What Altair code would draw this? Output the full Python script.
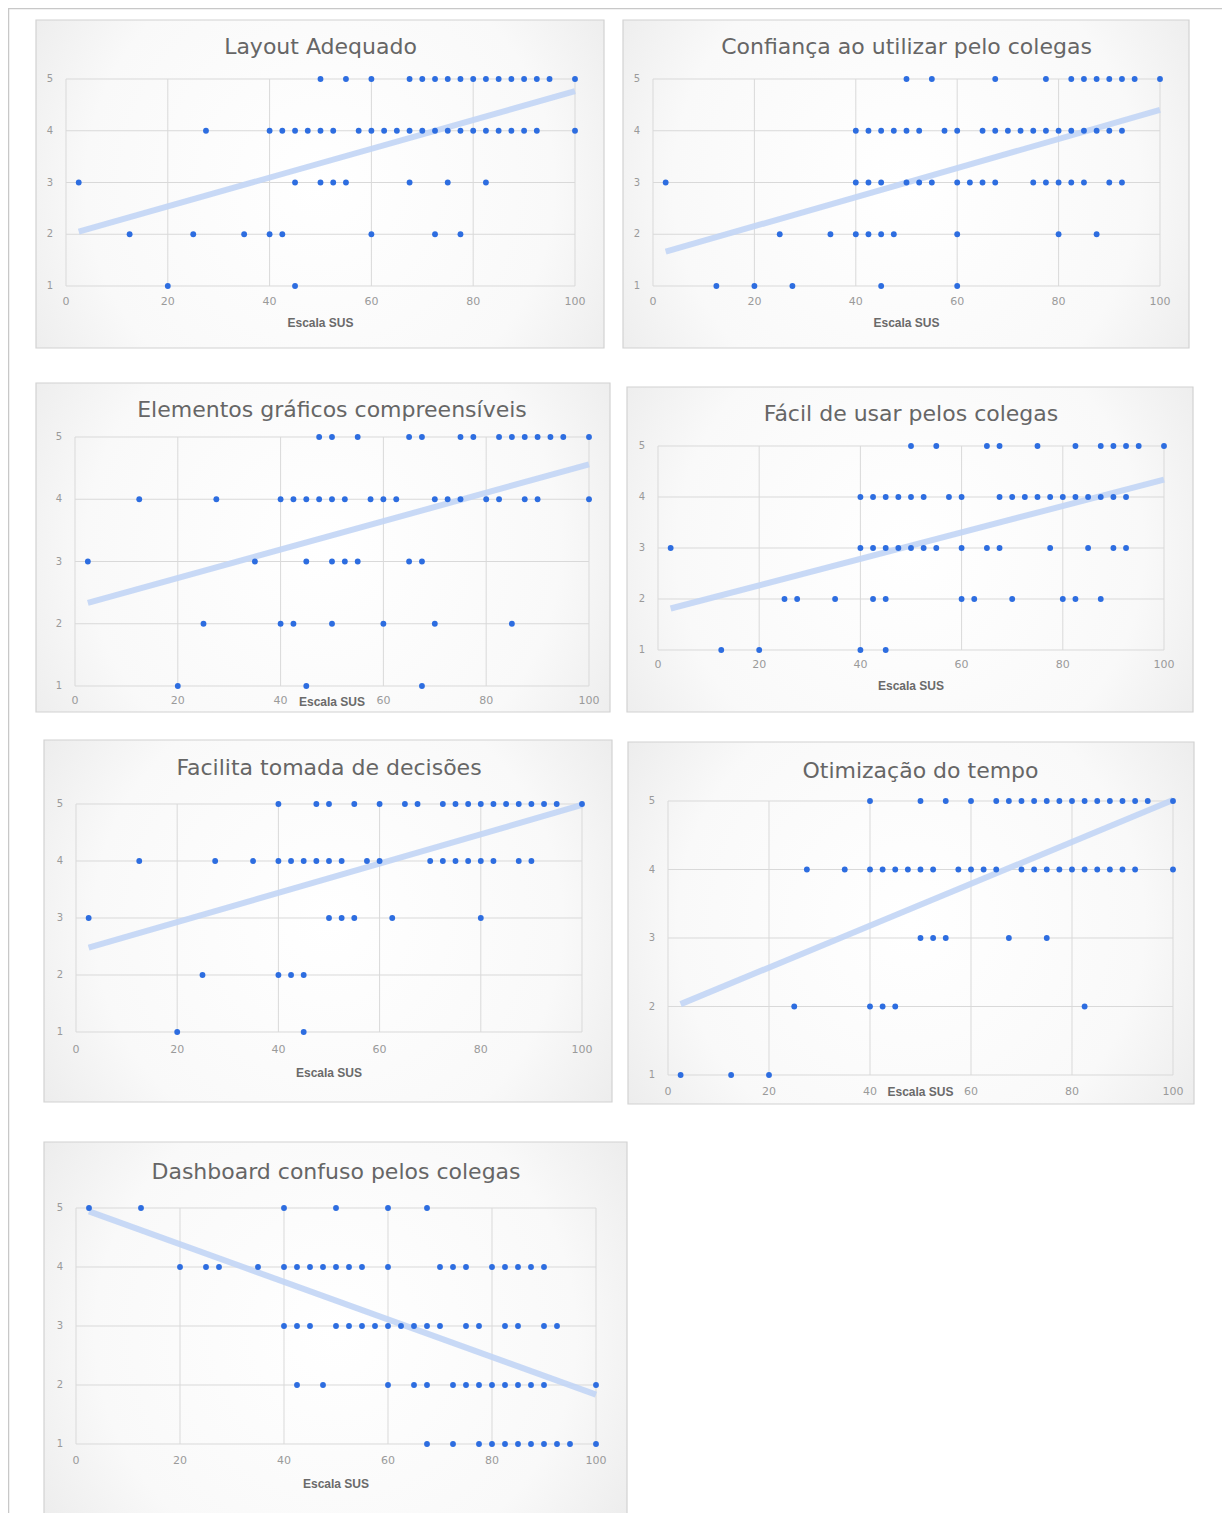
import altair as alt
import pandas as pd

# ---------------- data ----------------
x_ticks = [0, 20, 40, 60, 80, 100]
y_ticks = [1, 2, 3, 4, 5]
x_title = "Escala SUS"

titles = [
    "Layout Adequado",
    "Confiança ao utilizar pelo colegas",
    "Elementos gráficos compreensíveis",
    "Fácil de usar pelos colegas",
    "Facilita tomada de decisões",
    "Otimização do tempo",
    "Dashboard confuso pelos colegas",
]

# SUS score of each answer, grouped by the answer value (1..5)
layout_adequado = {
    5: [50, 55, 60, 67.5, 70, 72.5, 75, 77.5, 80, 82.5, 85, 87.5, 90, 92.5, 95, 100],
    4: [27.5, 40, 42.5, 45, 47.5, 50, 52.5, 57.5, 60, 62.5, 65, 67.5, 70, 72.5, 75, 77.5, 80, 82.5, 85, 87.5, 90, 92.5, 100],
    3: [2.5, 45, 50, 52.5, 55, 67.5, 75, 82.5],
    2: [12.5, 25, 35, 40, 42.5, 60, 72.5, 77.5],
    1: [20, 45],
}
confianca = {
    5: [50, 55, 67.5, 77.5, 82.5, 85, 87.5, 90, 92.5, 95, 100],
    4: [40, 42.5, 45, 47.5, 50, 52.5, 57.5, 60, 65, 67.5, 70, 72.5, 75, 77.5, 80, 82.5, 85, 87.5, 90, 92.5],
    3: [2.5, 40, 42.5, 45, 50, 52.5, 55, 60, 62.5, 65, 67.5, 75, 77.5, 80, 82.5, 85, 90, 92.5],
    2: [25, 35, 40, 42.5, 45, 47.5, 60, 80, 87.5],
    1: [12.5, 20, 27.5, 45, 60],
}
elementos = {
    5: [47.5, 50, 55, 65, 67.5, 75, 77.5, 82.5, 85, 87.5, 90, 92.5, 95, 100],
    4: [12.5, 27.5, 40, 42.5, 45, 47.5, 50, 52.5, 57.5, 60, 62.5, 70, 72.5, 75, 80, 82.5, 87.5, 90, 100],
    3: [2.5, 35, 45, 50, 52.5, 55, 65, 67.5],
    2: [25, 40, 42.5, 50, 60, 70, 85],
    1: [20, 45, 67.5],
}
facil = {
    5: [50, 55, 65, 67.5, 75, 82.5, 87.5, 90, 92.5, 95, 100],
    4: [40, 42.5, 45, 47.5, 50, 52.5, 57.5, 60, 67.5, 70, 72.5, 75, 77.5, 80, 82.5, 85, 87.5, 90, 92.5],
    3: [2.5, 40, 42.5, 45, 47.5, 50, 52.5, 55, 60, 65, 67.5, 77.5, 85, 90, 92.5],
    2: [25, 27.5, 35, 42.5, 45, 60, 62.5, 70, 80, 82.5, 87.5],
    1: [12.5, 20, 40, 45],
}
facilita = {
    5: [40, 47.5, 50, 55, 60, 65, 67.5, 72.5, 75, 77.5, 80, 82.5, 85, 87.5, 90, 92.5, 95, 100],
    4: [12.5, 27.5, 35, 40, 42.5, 45, 47.5, 50, 52.5, 57.5, 60, 70, 72.5, 75, 77.5, 80, 82.5, 87.5, 90],
    3: [2.5, 50, 52.5, 55, 62.5, 80],
    2: [25, 40, 42.5, 45],
    1: [20, 45],
}
otimizacao = {
    5: [40, 50, 55, 60, 65, 67.5, 70, 72.5, 75, 77.5, 80, 82.5, 85, 87.5, 90, 92.5, 95, 100],
    4: [27.5, 35, 40, 42.5, 45, 47.5, 50, 52.5, 57.5, 60, 62.5, 65, 70, 72.5, 75, 77.5, 80, 82.5, 85, 87.5, 90, 92.5, 100],
    3: [50, 52.5, 55, 67.5, 75],
    2: [25, 40, 42.5, 45, 82.5],
    1: [2.5, 12.5, 20],
}
confuso = {
    5: [2.5, 12.5, 40, 50, 60, 67.5],
    4: [20, 25, 27.5, 35, 40, 42.5, 45, 47.5, 50, 52.5, 55, 60, 70, 72.5, 75, 80, 82.5, 85, 87.5, 90],
    3: [40, 42.5, 45, 50, 52.5, 55, 57.5, 60, 62.5, 65, 67.5, 70, 75, 77.5, 82.5, 85, 90, 92.5],
    2: [42.5, 47.5, 60, 65, 67.5, 72.5, 75, 77.5, 80, 82.5, 85, 87.5, 90, 100],
    1: [67.5, 72.5, 77.5, 80, 82.5, 85, 87.5, 90, 92.5, 95, 100],
}
series = [layout_adequado, confianca, elementos, facil, facilita, otimizacao, confuso]

# ---------------- layout (pixels in the canvas) ----------------
geometry = [
    dict(xr=[58, 567], yr=[278, 71], box=(-30, 29, -59, 62), tdy=-32, ldy=16, xtdy=37),
    dict(xr=[645, 1152], yr=[278, 71], box=(-30, 29, -59, 62), tdy=-32, ldy=16, xtdy=37),
    dict(xr=[67, 581], yr=[678, 429], box=(-39, 21, -54, 26), tdy=-27, ldy=15, xtdy=16),
    dict(xr=[650, 1156], yr=[642, 438], box=(-31, 29, -59, 62), tdy=-32, ldy=15, xtdy=36),
    dict(xr=[68, 574], yr=[1024, 796], box=(-32, 30, -64, 70), tdy=-36, ldy=18, xtdy=41),
    dict(xr=[660, 1165], yr=[1067, 793], box=(-40, 21, -59, 29), tdy=-30, ldy=17, xtdy=17),
    dict(xr=[68, 588], yr=[1436, 1200], box=(-32, 31, -66, 80), tdy=-36, ldy=17, xtdy=40),
]

POINT = "#2d6de0"
TREND = "#c2d5f5"
GRID = "#d9d9d9"
LABEL = "#9a9a9a"
TITLE = "#666666"

gradient = {
    "gradient": "radial",
    "x1": 0.5, "y1": 0.5, "r1": 0,
    "x2": 0.5, "y2": 0.5, "r2": 0.75,
    "stops": [
        {"offset": 0, "color": "#ffffff"},
        {"offset": 0.55, "color": "#f9f9f9"},
        {"offset": 1, "color": "#e2e2e2"},
    ],
}

one = pd.DataFrame({"k": [0]})


def panel(title, data, g):
    xs = alt.Scale(domain=[0, 100], range=g["xr"], nice=False, zero=False)
    ys = alt.Scale(domain=[1, 5], range=g["yr"], nice=False, zero=False)
    rows = [{"x": x, "y": y} for y, xl in data.items() for x in xl]
    df = pd.DataFrame(rows)
    bl, br, bt, bb = g["box"]

    box = alt.Chart(one).mark_rect(
        fill=gradient, stroke="#d2d2d2", strokeWidth=1.2,
        xOffset=bl, x2Offset=br, yOffset=bt, y2Offset=bb,
    ).encode(
        x=alt.XDatum(x_ticks[0], scale=xs, axis=None),
        x2=alt.X2Datum(x_ticks[-1]),
        y=alt.YDatum(y_ticks[-1], scale=ys, axis=None),
        y2=alt.Y2Datum(y_ticks[0]),
    )
    vgrid = alt.Chart(pd.DataFrame({"v": x_ticks})).mark_rule(
        color=GRID, strokeWidth=1
    ).encode(
        x=alt.X("v:Q", scale=xs, axis=None),
        y=alt.YDatum(y_ticks[0], scale=ys, axis=None),
        y2=alt.Y2Datum(y_ticks[-1]),
    )
    hgrid = alt.Chart(pd.DataFrame({"v": y_ticks})).mark_rule(
        color=GRID, strokeWidth=1
    ).encode(
        y=alt.Y("v:Q", scale=ys, axis=None),
        x=alt.XDatum(x_ticks[0], scale=xs, axis=None),
        x2=alt.X2Datum(x_ticks[-1]),
    )
    trend = alt.Chart(df).transform_regression("x", "y").mark_line(
        color=TREND, strokeWidth=6, strokeCap="butt", opacity=0.9
    ).encode(
        x=alt.X("x:Q", scale=xs, axis=None),
        y=alt.Y("y:Q", scale=ys, axis=None),
    )
    pts = alt.Chart(df).mark_circle(size=34, color=POINT, opacity=1).encode(
        x=alt.X("x:Q", scale=xs, axis=None),
        y=alt.Y("y:Q", scale=ys, axis=None),
    )
    xlab = alt.Chart(pd.DataFrame({"v": x_ticks, "t": [str(v) for v in x_ticks]})).mark_text(
        dy=g["ldy"], font="DejaVu Sans", fontSize=11, color=LABEL, baseline="middle"
    ).encode(
        x=alt.X("v:Q", scale=xs, axis=None),
        y=alt.YDatum(y_ticks[0], scale=ys, axis=None),
        text="t:N",
    )
    ylab = alt.Chart(pd.DataFrame({"v": y_ticks, "t": [str(v) for v in y_ticks]})).mark_text(
        dx=-16, font="DejaVu Sans", fontSize=10, color=LABEL, baseline="middle"
    ).encode(
        y=alt.Y("v:Q", scale=ys, axis=None),
        x=alt.XDatum(x_ticks[0], scale=xs, axis=None),
        text="t:N",
    )
    ttl = alt.Chart(one).mark_text(
        text=title, dy=g["tdy"], font="DejaVu Sans", fontSize=22, color=TITLE,
        baseline="middle",
    ).encode(
        x=alt.XDatum(50, scale=xs, axis=None),
        y=alt.YDatum(y_ticks[-1], scale=ys, axis=None),
    )
    xt = alt.Chart(one).mark_text(
        text=x_title, dy=g["xtdy"], font="Liberation Sans", fontSize=12,
        fontWeight="bold", color="#6a6a6a", baseline="middle",
    ).encode(
        x=alt.XDatum(50, scale=xs, axis=None),
        y=alt.YDatum(y_ticks[0], scale=ys, axis=None),
    )
    return alt.layer(box, vgrid, hgrid, trend, pts, xlab, ylab, ttl, xt)


panels = [panel(t, d, g) for t, d, g in zip(titles, series, geometry)]

frame_top = alt.Chart(one).mark_rule(color="#c8c8c8", strokeWidth=1.5).encode(
    x=alt.value(0), x2=alt.value(1214), y=alt.value(0.5)
)
frame_left = alt.Chart(one).mark_rule(color="#c8c8c8", strokeWidth=1.5).encode(
    x=alt.value(0.5), y=alt.value(0), y2=alt.value(1505)
)

chart = (
    alt.layer(*panels, frame_top, frame_left)
    .resolve_scale(x="independent", y="independent")
    .properties(width=1214, height=1505, padding=0,
                autosize=alt.AutoSizeParams(type="none"))
    .configure_view(stroke=None)
    .configure(background="white")
)

chart.save("out.html", embed_options={"renderer": "svg", "actions": False})
